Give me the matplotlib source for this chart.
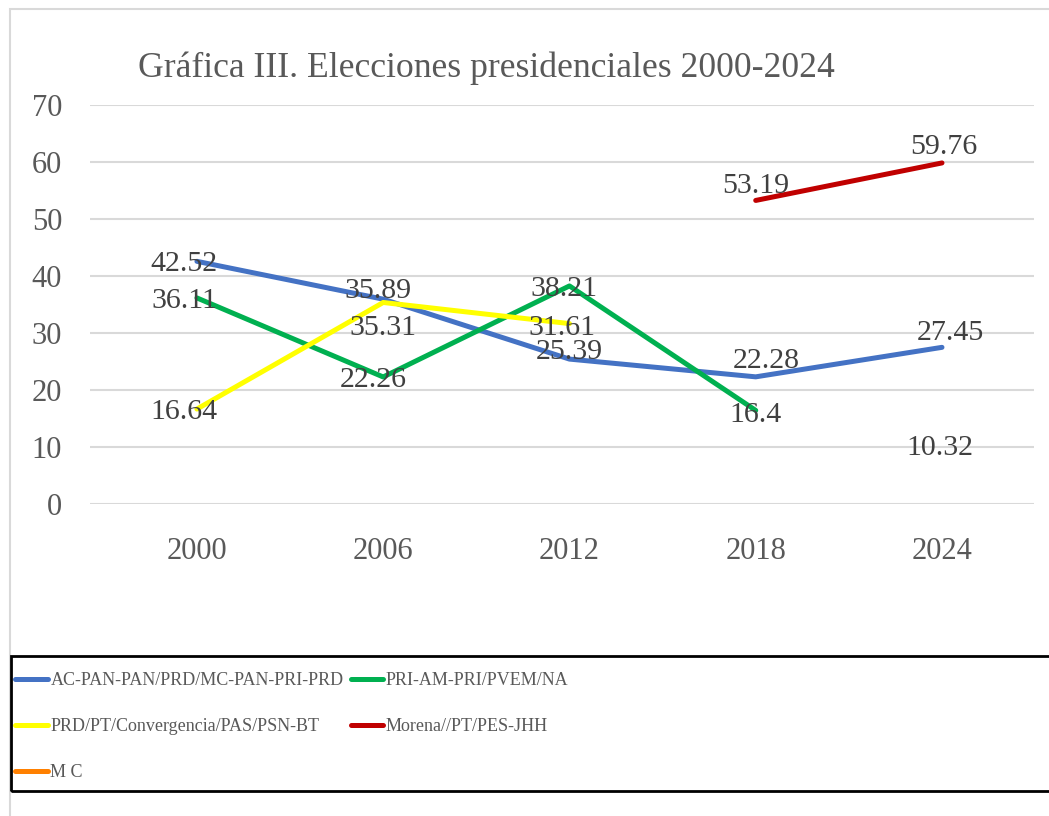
import matplotlib.pyplot as plt
import numpy as np
from matplotlib.patches import Rectangle
from matplotlib.lines import Line2D

plt.rcParams['font.family'] = ['Liberation Serif', 'DejaVu Serif']

years = ['2000', '2006', '2012', '2018', '2024']
series_names = ['AC-PAN-PAN/PRD/MC-PAN-PRI-PRD', 'PRI-AM-PRI/PVEM/NA',
                'PRD/PT/Convergencia/PAS/PSN-BT', 'Morena//PT/PES-JHH', 'M C']
pan = [42.52, 35.89, 25.39, 22.28, 27.45]
pri = [36.11, 22.26, 38.21, 16.4, np.nan]
prd = [16.64, 35.31, 31.61, np.nan, np.nan]
morena = [np.nan, np.nan, np.nan, 53.19, 59.76]
mc = [np.nan, np.nan, np.nan, np.nan, 10.32]
all_series = [pan, pri, prd, morena, mc]

colors = ['#4472C4', '#00B050', '#FFFF00', '#C00000', '#FF8000']
# label nudges in pixels (dx, dy), one per point
label_offsets = [
    [(-13, -3), (-5, 8), (0, 7), (11, 16), (8, 14)],
    [(-13, -3), (-10, -3), (-6, -3), (0, -5), (0, -3)],
    [(-13, -3), (0, -26), (-8, -4), (0, -3), (0, -3)],
    [(0, -3), (0, -3), (0, -3), (0, 14), (2, 16)],
    [(0, -3), (0, -3), (0, -3), (0, -3), (-2, -3)],
]

fig = plt.figure(figsize=(10.49, 8.16), dpi=100)

# outer chart frame
fig.patches.append(Rectangle((10 / 1049, -0.05), 1.2, 1.05 - 9 / 816,
                             transform=fig.transFigure, fill=False,
                             edgecolor='#D9D9D9', linewidth=1.5))

ax = fig.add_axes([90 / 1049, 1 - 504 / 816, (1034 - 90) / 1049, (504 - 104.5) / 816])
x = np.arange(len(years))
for vals, col, offs in zip(all_series, colors, label_offsets):
    ax.plot(x, vals, color=col, linewidth=3.6, solid_capstyle='round')
    for xi, v, (dx, dy) in zip(x, vals, offs):
        if np.isnan(v):
            continue
        ax.annotate(f'{v:g}', (xi, v), xytext=(dx, dy), textcoords='offset pixels',
                    ha='center', va='center', fontsize=21.5, color='#404040')

ax.set_xlim(-0.574, 4.494)
ax.set_ylim(0, 70)
ax.set_yticks(range(0, 71, 10))
ax.set_xticks(x)
ax.set_xticklabels(years)
ax.grid(axis='y', color='#D9D9D9', linewidth=1.5)
ax.set_axisbelow(True)
for s in ax.spines.values():
    s.set_visible(False)
ax.tick_params(length=0, labelsize=22, labelcolor='#595959')
ax.tick_params(axis='y', pad=20)
ax.tick_params(axis='x', pad=23.5)

fig.text(486 / 1049, 1 - 68 / 816, 'Gráfica III. Elecciones presidenciales 2000-2024',
         ha='center', va='center', fontsize=25.7, color='#595959')

# legend frame
fig.patches.append(Rectangle((11 / 1049, 1 - 791 / 816), 1.2, 135 / 816,
                             transform=fig.transFigure, fill=False,
                             edgecolor='black', linewidth=2))
handles = [Line2D([], [], color=c, linewidth=3.6, solid_capstyle='round') for c in colors]
order = [0, 2, 4, 1, 3]  # legend fills by column; this gives row-wise order
fig.legend([handles[i] for i in order], [series_names[i] for i in order],
           loc='upper left', bbox_to_anchor=(8 / 1049, 1 - 665 / 816),
           ncol=2, frameon=False, fontsize=13, labelcolor='#595959',
           handlelength=1.8, handletextpad=0.15, columnspacing=0.4, labelspacing=1.6,
           borderaxespad=0)

fig.savefig('out.png', dpi=100)
